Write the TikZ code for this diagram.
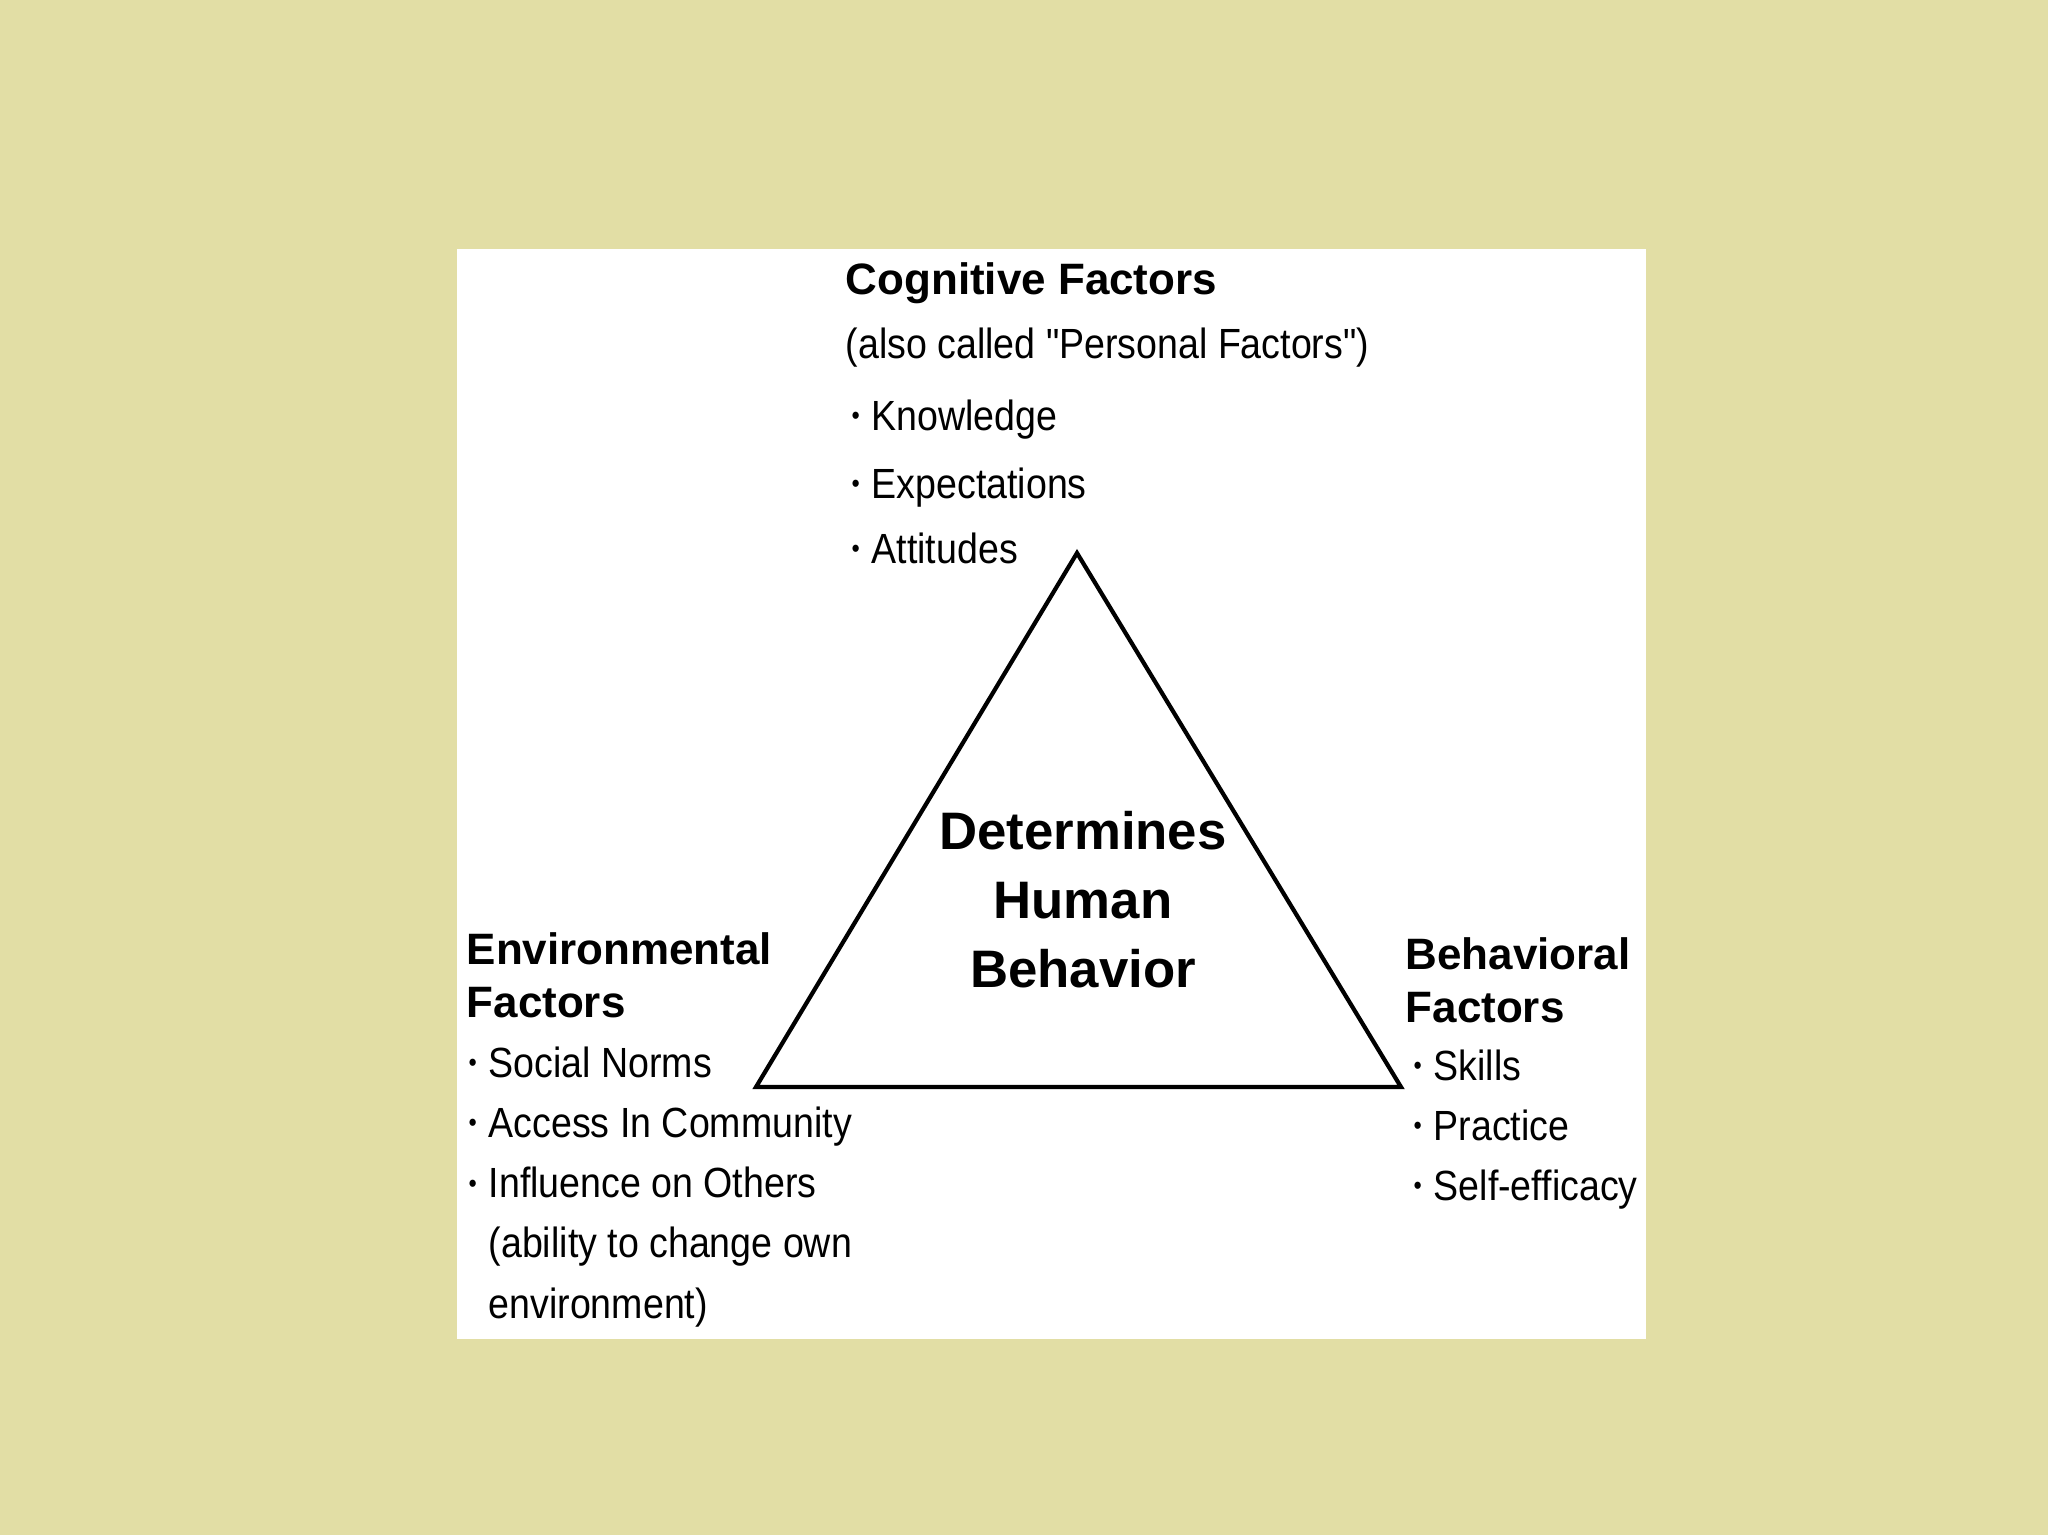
\documentclass[tikz,border=0pt]{standalone}
\usepackage{fontspec}
\setmainfont{Liberation Sans}
\newfontfamily\narrowfont[FakeStretch=0.89]{Liberation Sans}
\usepackage{xcolor}
\usepackage{tikz}
\usetikzlibrary{positioning}

\definecolor{slidebg}{RGB}{226,222,165}
\newcommand{\dotmark}{\makebox[0.2cm][l]{\raisebox{1.6pt}{\fontsize{7.5}{7.5}\selectfont\textbullet}}}

\begin{document}
\begin{tikzpicture}[
    x=0.01cm, y=-0.01cm,
    head/.style={anchor=base west, inner sep=0pt, align=left, font=\fontsize{12.5}{14.8}\selectfont\bfseries},
    item/.style={anchor=base west, inner sep=0pt, align=left, font=\narrowfont\fontsize{12}{17.1}\selectfont},
    core/.style={anchor=base, inner sep=0pt, align=center, font=\fontsize{15}{19.6}\selectfont\bfseries},
    tri/.style={draw=black, line width=1.2pt, line join=miter},
  ]

  % slide background and white panel
  \fill[slidebg] (0,0) rectangle (2048,1535);
  \fill[white] (457,249) rectangle (1646,1339);

  % ===== TOP: cognitive factors =====
  \node[head] (cogtitle) at (845,294) {Cognitive Factors};
  \node[item] (cogsub)   at (845,358) {(also called "Personal Factors")};
  \node[item] (know)     at (851,430) {\dotmark Knowledge};
  \node[item] (expect)   at (851,498) {\dotmark Expectations};
  \node[item] (attit)    at (851,563) {\dotmark Attitudes};

  % ===== triangle =====
  \coordinate (apex)  at (1077,553);
  \coordinate (left)  at (756,1087);
  \coordinate (right) at (1401,1087);
  \draw[tri] (apex) -- (left) -- (right) -- cycle;

  % multi-line nodes sit on the baseline of their last line
  \node[core] (core) at (1083,987) {Determines\\Human\\Behavior};

  % ===== LEFT: environmental factors =====
  \node[head] (envtitle)  at (466,1017) {Environmental\\Factors};
  \node[item] (norms)     at (468,1077) {\dotmark Social Norms};
  \node[item] (access)    at (468,1137) {\dotmark Access In Community};
  \node[item] (influence) at (468,1318) {\dotmark Influence on Others\\
      \hspace*{0.2cm}(ability to change own\\ \hspace*{0.2cm}environment)};

  % ===== RIGHT: behavioral factors =====
  \node[head] (behtitle) at (1405,1022) {Behavioral\\Factors};
  \node[item] (skills)   at (1413,1080) {\dotmark Skills};
  \node[item] (practice) at (1413,1140) {\dotmark Practice};
  \node[item] (selfeff)  at (1413,1200) {\dotmark Self-efficacy};

\end{tikzpicture}
\end{document}
